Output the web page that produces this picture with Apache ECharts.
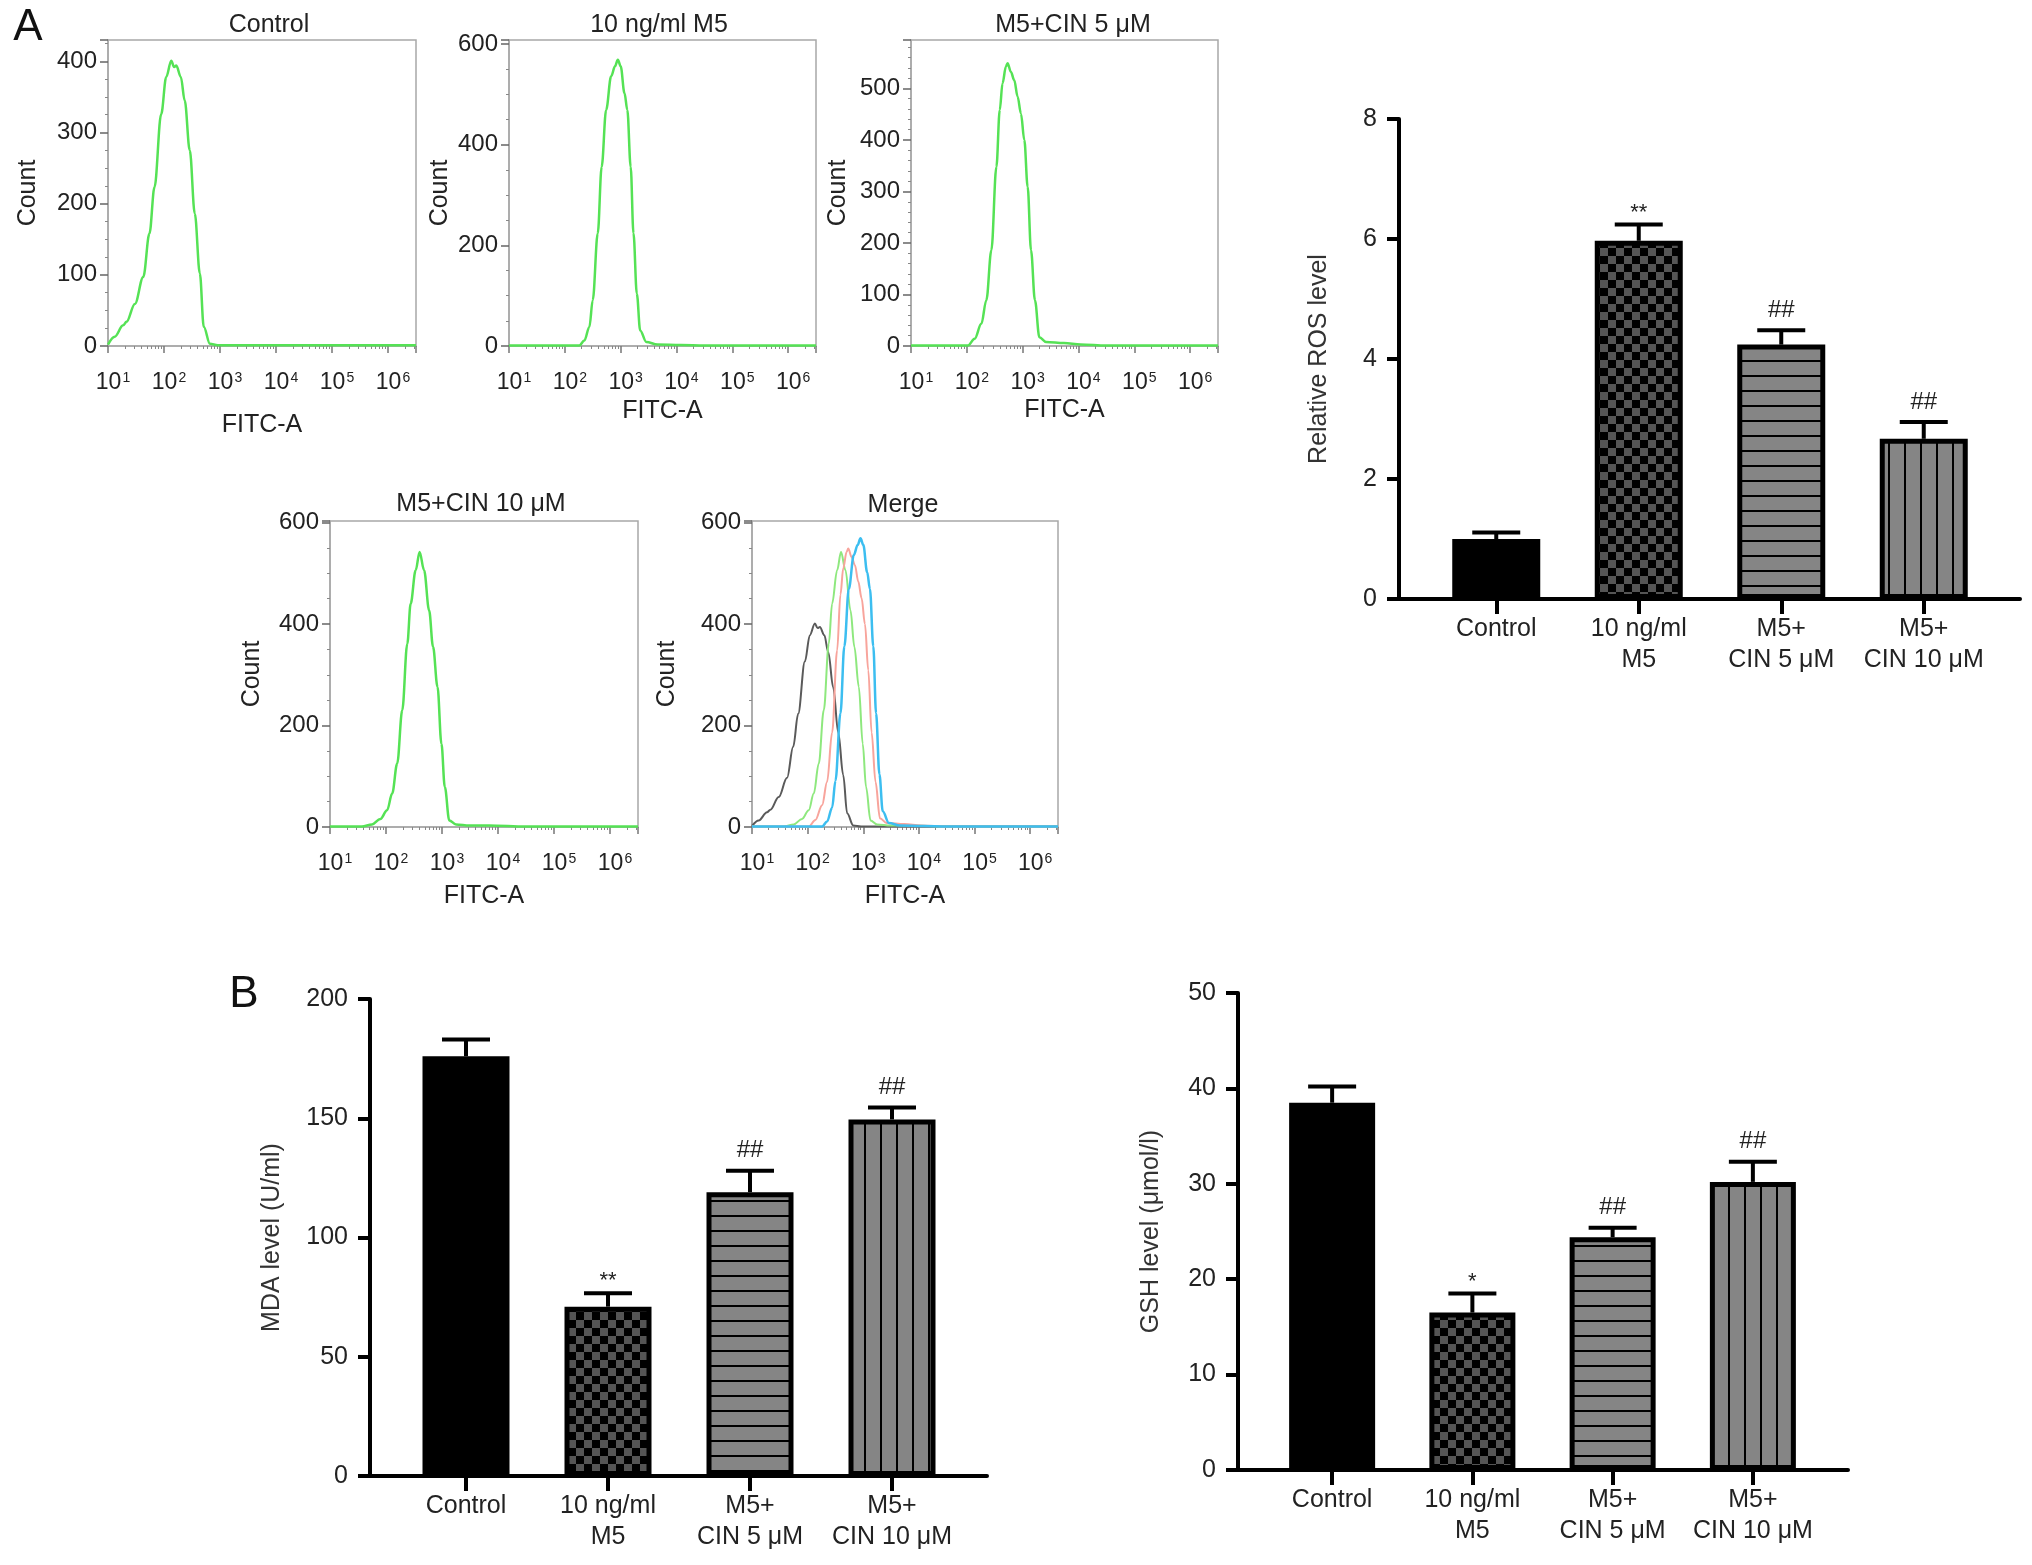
<!DOCTYPE html>
<html><head><meta charset="utf-8">
<script src="https://cdn.jsdelivr.net/npm/echarts@6/dist/echarts.min.js"></script>
<style>html,body{margin:0;padding:0;background:#fff}#c{width:2032px;height:1565px}</style>
</head><body><div id="c"></div>
<script>
// ---------- DATA ----------
// Flow cytometry histograms: x = log10(FITC-A), y = count
const ctrlExp = [1.0, 1.12, 1.27, 1.33, 1.48, 1.63, 1.74, 1.83, 1.95, 2.04, 2.13, 2.18, 2.22, 2.30, 2.37, 2.46, 2.55, 2.64, 2.71, 2.82, 2.96, 3.5, 4.0, 4.5, 5.0, 5.5, 6.0, 6.5];
const ctrlCnt = [2, 13, 29, 34, 59, 97, 158, 223, 326, 378, 401, 392, 394, 378, 345, 275, 186, 102, 27, 3, 1, 1, 1, 1, 1, 1, 1, 1];
const m5Exp = [1.0, 1.5, 2.0, 2.26, 2.35, 2.44, 2.50, 2.59, 2.66, 2.74, 2.83, 2.90, 2.95, 3.00, 3.07, 3.12, 3.18, 3.23, 3.29, 3.35, 3.46, 3.66, 4.08, 4.5, 5.0, 5.5, 6.0, 6.5];
const m5Cnt = [1, 1, 1, 1, 11, 38, 91, 224, 356, 469, 536, 556, 569, 556, 502, 469, 356, 224, 104, 31, 8, 3, 2, 1, 1, 1, 1, 1];
const cin5Exp = [1.0, 1.5, 2.02, 2.14, 2.26, 2.35, 2.44, 2.53, 2.59, 2.64, 2.70, 2.73, 2.79, 2.85, 2.91, 2.97, 3.03, 3.09, 3.15, 3.22, 3.30, 3.42, 3.74, 4.04, 4.5, 5.0, 5.5, 6.0, 6.5];
const cin5Cnt = [1, 1, 1, 14, 43, 89, 186, 348, 458, 510, 542, 549, 532, 516, 484, 451, 400, 309, 186, 89, 17, 8, 6, 3, 1, 1, 1, 1, 1];
const cin10Exp = [1.0, 1.57, 1.75, 1.90, 2.02, 2.11, 2.20, 2.29, 2.38, 2.44, 2.53, 2.60, 2.68, 2.77, 2.84, 2.92, 2.99, 3.05, 3.13, 3.25, 3.49, 3.84, 4.5, 5.0, 5.5, 6.0, 6.5];
const cin10Cnt = [1, 1, 5, 16, 33, 66, 125, 230, 361, 440, 506, 542, 506, 427, 355, 276, 164, 79, 13, 5, 3, 3, 1, 1, 1, 1, 1];

// Bar charts
const groups = ['Control', '10 ng/ml\nM5', 'M5+\nCIN 5 μM', 'M5+\nCIN 10 μM'];
const rosMean = [1.0, 5.97, 4.24, 2.67];
const rosErr = [0.11, 0.27, 0.24, 0.28];
const rosSig = ['', '**', '##', '##'];
const mdaMean = [176, 71, 119, 149.5];
const mdaErr = [7, 5.6, 9, 5];
const mdaSig = ['', '**', '##', '##'];
const gshMean = [38.5, 16.5, 24.4, 30.2];
const gshErr = [1.7, 2.0, 1.0, 2.1];
const gshSig = ['', '*', '##', '##'];

// ---------- STYLE ----------
const FONT = '"Liberation Sans", Arial, Helvetica, sans-serif';
const GREEN = '#55e255';
const TXT = '#222';

function pat(w, h, draw) {
  const c = document.createElement('canvas'); c.width = w; c.height = h;
  draw(c.getContext('2d')); return { image: c, repeat: 'repeat' };
}
const fills = [
  '#000',
  pat(16, 16, g => { g.fillStyle = '#555'; g.fillRect(0, 0, 16, 16); g.fillStyle = '#000'; g.fillRect(0, 0, 8, 8); g.fillRect(8, 8, 8, 8); }),
  pat(4, 15, g => { g.fillStyle = '#858585'; g.fillRect(0, 0, 4, 15); g.fillStyle = '#000'; g.fillRect(0, 0, 4, 2); }),
  pat(16, 4, g => { g.fillStyle = '#858585'; g.fillRect(0, 0, 16, 4); g.fillStyle = '#000'; g.fillRect(0, 0, 2, 4); })
];

const grids = [], xAxes = [], yAxes = [], series = [], graphics = [];

function logLabel(v) {
  const e = Math.log10(v), r = Math.round(e);
  if (Math.abs(e - r) > 1e-6) return '';
  return '{b|10}{s|' + r + '}';
}

function addHist(p) {
  const gi = grids.length;
  grids.push(Object.assign({ show: true, borderColor: '#a8a8a8', borderWidth: 1.5 }, p.grid));
  xAxes.push({
    type: 'log', logBase: 10, gridIndex: gi, min: 10, max: Math.pow(10, 6.5),
    axisLine: { lineStyle: { color: '#a8a8a8', width: 1.5 } },
    axisTick: { show: true, length: 7, lineStyle: { color: '#777', width: 1.5 } },
    minorTick: { show: true, splitNumber: 9, length: 3, lineStyle: { color: '#888', width: 1 } },
    splitLine: { show: false },
    axisLabel: { formatter: logLabel, fontSize: 23, color: TXT, fontFamily: FONT, margin: 25,
      rich: { b: { fontSize: 23, color: TXT, fontFamily: FONT, padding: [0, 0, 0, 10] },
              s: { fontSize: 14, verticalAlign: 'top', color: TXT, fontFamily: FONT, padding: [0, 0, 0, 1] } } },
    name: 'FITC-A', nameLocation: 'middle', nameGap: p.xGap,
    nameTextStyle: { fontSize: 25, color: TXT, fontFamily: FONT }
  });
  yAxes.push({
    type: 'value', gridIndex: gi, min: 0, max: p.max, interval: p.interval,
    axisLine: { show: true, lineStyle: { color: '#a8a8a8', width: 1.5 } },
    axisTick: { show: true, length: 8, lineStyle: { color: '#666', width: 1.5 } },
    minorTick: { show: true, splitNumber: p.minor, length: 3, lineStyle: { color: '#888', width: 1 } },
    splitLine: { show: false },
    axisLabel: { fontSize: 24, color: TXT, fontFamily: FONT, margin: 11,
      formatter: v => (v % p.interval === 0 ? String(v) : '') },
    name: 'Count', nameLocation: 'middle', nameGap: p.yGap,
    nameTextStyle: { fontSize: 25, color: TXT, fontFamily: FONT }
  });
  p.curves.forEach(c => series.push({
    type: 'line', xAxisIndex: gi, yAxisIndex: gi, showSymbol: false, smooth: 0.35, smoothMonotone: 'x',
    data: c.exp.map((e, k) => [Math.pow(10, e), c.cnt[k]]),
    lineStyle: { color: c.color, width: c.width || 2.5 }, z: 3
  }));
  graphics.push({ type: 'text', x: p.tx, y: p.ty,
    style: { text: p.title, fontSize: 25, fontFamily: FONT, fill: TXT, align: 'center', verticalAlign: 'middle' } });
}

function addBar(b) {
  const ga = grids.length;
  grids.push({ left: b.axisLeft, top: b.top, width: b.axisWidth, height: b.height });
  xAxes.push({ type: 'category', gridIndex: ga, data: [''],
    axisLine: { lineStyle: { color: '#000', width: 4 } }, axisTick: { show: false }, axisLabel: { show: false }, splitLine: { show: false } });
  yAxes.push({ type: 'value', gridIndex: ga, min: 0, max: b.max, interval: b.interval,
    axisLine: { show: true, lineStyle: { color: '#000', width: 4 } },
    axisTick: { show: true, length: 12, lineStyle: { color: '#000', width: 4 } },
    axisLabel: { fontSize: 25, color: TXT, fontFamily: FONT, margin: 22 },
    splitLine: { show: false },
    name: b.name, nameLocation: 'middle', nameGap: b.nameGap,
    nameTextStyle: { fontSize: 25, color: '#333', fontFamily: FONT } });
  const gb = grids.length;
  grids.push({ left: b.barLeft, top: b.top, width: b.barArea, height: b.height });
  xAxes.push({ type: 'category', gridIndex: gb, data: groups,
    axisLine: { show: false },
    axisTick: { show: true, alignWithLabel: true, length: 15, lineStyle: { color: '#000', width: 4 } },
    axisLabel: { fontSize: 25, lineHeight: 31, color: TXT, fontFamily: FONT, margin: 15, interval: 0 },
    splitLine: { show: false } });
  yAxes.push({ type: 'value', gridIndex: gb, min: 0, max: b.max, show: false });
  series.push({ type: 'bar', xAxisIndex: gb, yAxisIndex: gb, barWidth: b.bw, z: 2,
    data: b.mean.map((v, i) => ({ value: v, itemStyle: { color: fills[i], borderColor: '#000', borderWidth: 5 } })) });
  const sig = b.sig;
  series.push({ type: 'custom', xAxisIndex: gb, yAxisIndex: gb, z: 4,
    data: b.mean.map((v, i) => [i, v, b.err[i]]), encode: { x: 0, y: 1 },
    renderItem: (params, api) => {
      const i = api.value(0), m = api.value(1), e = api.value(2);
      const p0 = api.coord([i, m]), p1 = api.coord([i, m + e]);
      const ch = [
        { type: 'line', shape: { x1: p0[0], y1: p0[1], x2: p1[0], y2: p1[1] }, style: { stroke: '#000', lineWidth: 4 } },
        { type: 'line', shape: { x1: p1[0] - 24, y1: p1[1], x2: p1[0] + 24, y2: p1[1] }, style: { stroke: '#000', lineWidth: 4 } }
      ];
      const s = sig[i];
      if (s) {
        const hash = s.indexOf('#') >= 0;
        ch.push({ type: 'text', x: p1[0], y: p1[1] - (hash ? 20 : 12),
          style: { text: s, fontSize: hash ? 24 : 22, fontFamily: FONT, fill: TXT, align: 'center', verticalAlign: 'middle' } });
      }
      return { type: 'group', children: ch };
    } });
}

addHist({ title: 'Control', tx: 269, ty: 25, grid: { left: 108, top: 40, width: 308, height: 306 },
  max: 430, interval: 100, minor: 4, yGap: 67, xGap: 67, curves: [{ exp: ctrlExp, cnt: ctrlCnt, color: GREEN }] });
addHist({ title: '10 ng/ml M5', tx: 659, ty: 25, grid: { left: 509, top: 40, width: 307, height: 306 },
  max: 608, interval: 200, minor: 4, yGap: 56, xGap: 53, curves: [{ exp: m5Exp, cnt: m5Cnt, color: GREEN }] });
addHist({ title: 'M5+CIN 5 μM', tx: 1073, ty: 25, grid: { left: 911, top: 40, width: 307, height: 306 },
  max: 594, interval: 100, minor: 5, yGap: 60, xGap: 52, curves: [{ exp: cin5Exp, cnt: cin5Cnt, color: GREEN }] });
addHist({ title: 'M5+CIN 10 μM', tx: 481, ty: 504, grid: { left: 330, top: 521, width: 308, height: 306 },
  max: 603, interval: 200, minor: 4, yGap: 65, xGap: 57, curves: [{ exp: cin10Exp, cnt: cin10Cnt, color: GREEN }] });
addHist({ title: 'Merge', tx: 903, ty: 505, grid: { left: 752, top: 521, width: 306, height: 306 },
  max: 603, interval: 200, minor: 4, yGap: 72, xGap: 57, curves: [
    { exp: ctrlExp, cnt: ctrlCnt, color: '#5a5a5a', width: 2 },
    { exp: cin10Exp, cnt: cin10Cnt, color: '#8ee87e', width: 2 },
    { exp: cin5Exp, cnt: cin5Cnt, color: '#f8a49c', width: 2 },
    { exp: m5Exp, cnt: m5Cnt, color: '#3cbef0', width: 2.5 }] });

addBar({ axisLeft: 1399, axisWidth: 621, barLeft: 1425, barArea: 570, top: 119, height: 480, bw: 88,
  max: 8, interval: 2, name: 'Relative ROS level', nameGap: 67, mean: rosMean, err: rosErr, sig: rosSig });
addBar({ axisLeft: 370, axisWidth: 617, barLeft: 395, barArea: 568, top: 999, height: 477, bw: 87,
  max: 200, interval: 50, name: 'MDA level (U/ml)', nameGap: 85, mean: mdaMean, err: mdaErr, sig: mdaSig });
addBar({ axisLeft: 1238, axisWidth: 610, barLeft: 1262, barArea: 561, top: 993, height: 477, bw: 86,
  max: 50, interval: 10, name: 'GSH level (μmol/l)', nameGap: 74, mean: gshMean, err: gshErr, sig: gshSig });

graphics.push({ type: 'text', x: 28, y: 28, style: { text: 'A', fontSize: 44, fontFamily: FONT, fill: '#111', align: 'center', verticalAlign: 'middle' } });
graphics.push({ type: 'text', x: 244, y: 995, style: { text: 'B', fontSize: 44, fontFamily: FONT, fill: '#111', align: 'center', verticalAlign: 'middle' } });

const chart = echarts.init(document.getElementById('c'), null, { renderer: 'canvas', width: 2032, height: 1565 });
chart.setOption({
  animation: false, backgroundColor: '#fff',
  grid: grids, xAxis: xAxes, yAxis: yAxes, series: series, graphic: graphics
});
</script></body></html>
